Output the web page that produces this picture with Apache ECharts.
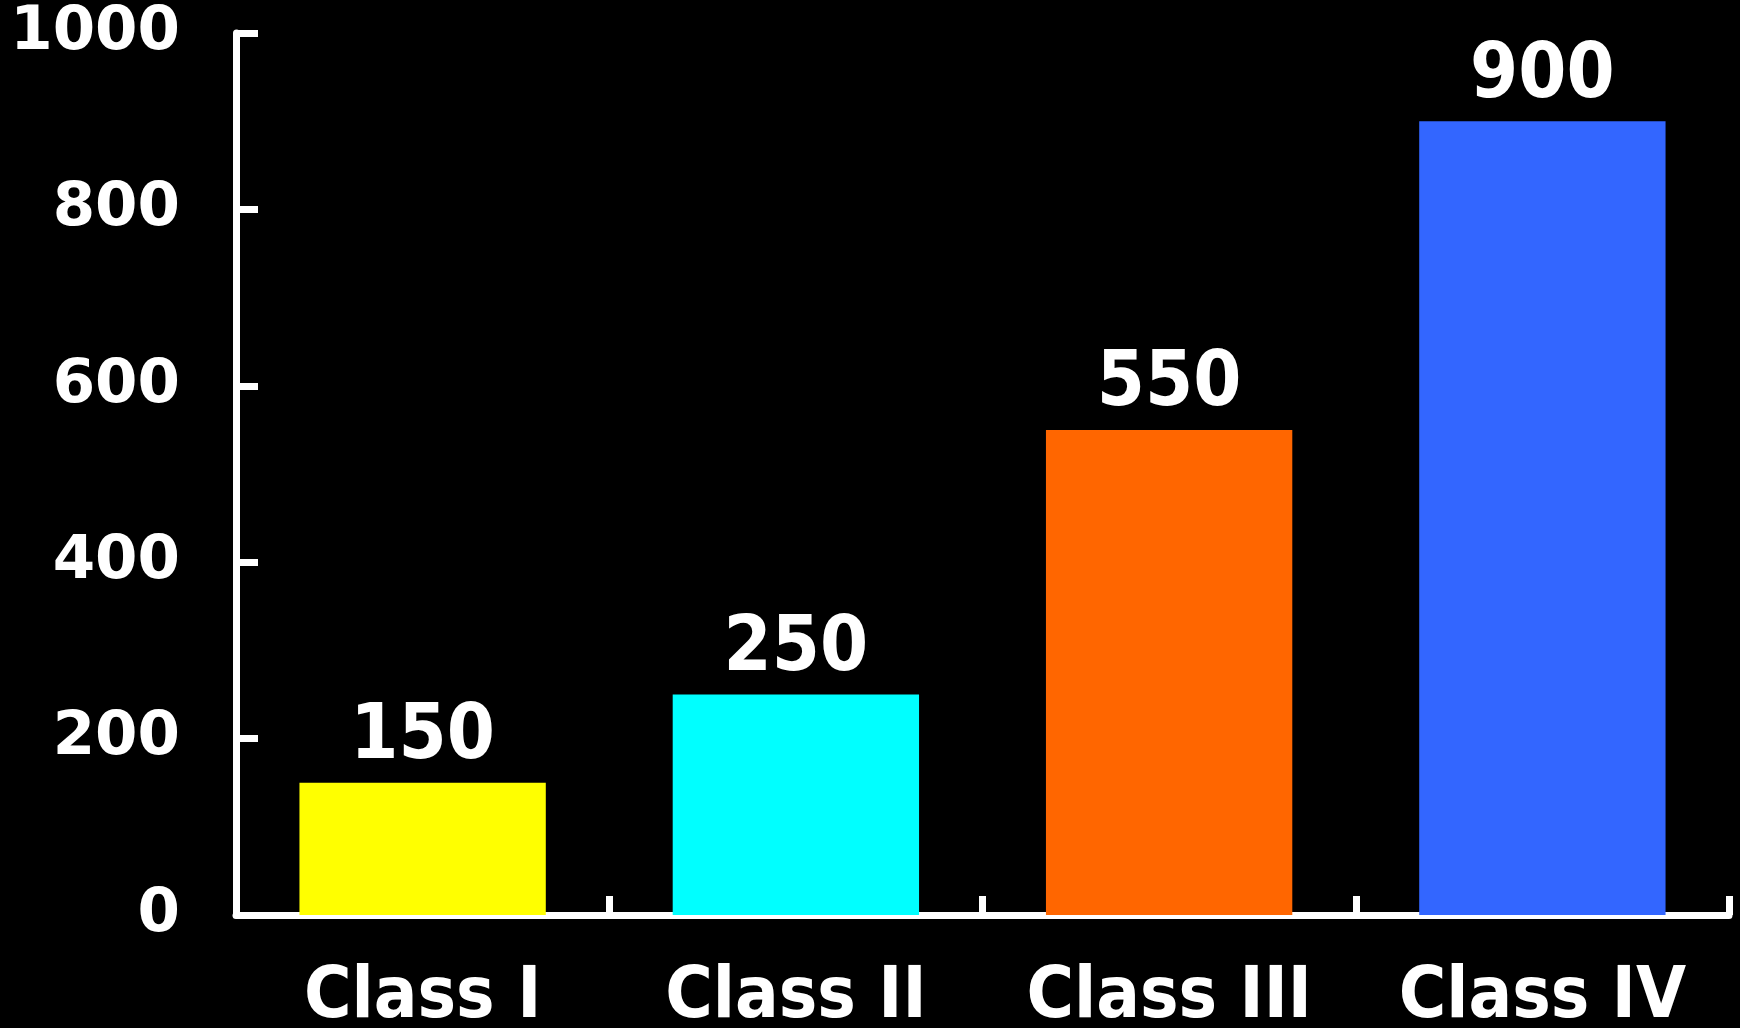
<!DOCTYPE html>
<html>
<head>
<meta charset="utf-8">
<title>Class totals</title>
<script src="https://cdn.jsdelivr.net/npm/echarts@6/dist/echarts.min.js"></script>
<style>
  html, body { margin: 0; padding: 0; background: #000; }
  #chart { width: 1740px; height: 1028px; }
</style>
</head>
<body>
<div id="chart"></div>
<script>
// Category names, their totals and bar colours
const categories = ['Class I', 'Class II', 'Class III', 'Class IV'];
const values = [150, 250, 550, 900];
const barColors = ['#FFFF00', '#00FFFF', '#FF6600', '#3366FF'];
const yTicks = [0, 200, 400, 600, 800, 1000];

const FONT = 'DejaVu Sans';
const FONT_NARROW = 'DejaVu Sans Condensed';

const chart = echarts.init(document.getElementById('chart'), null, { renderer: 'canvas' });

chart.setOption({
  backgroundColor: '#000000',
  animation: false,
  grid: {
    left: 236, right: 11, top: 33, bottom: 113,
    containLabel: false,
    outerBoundsMode: 'none'
  },
  xAxis: {
    type: 'category',
    data: categories,
    axisLine: { show: true, lineStyle: { color: '#FFFFFF', width: 7 } },
    axisTick: { show: true, inside: true, interval: 0, length: 19, lineStyle: { color: '#FFFFFF', width: 7 } },
    axisLabel: {
      interval: 0,
      color: '#FFFFFF', fontFamily: FONT_NARROW, fontWeight: 'bold', fontSize: 72, margin: 47
    },
    splitLine: { show: false }
  },
  yAxis: {
    type: 'value',
    min: yTicks[0],
    max: yTicks[yTicks.length - 1],
    interval: yTicks[1] - yTicks[0],
    axisLine: { show: true, lineStyle: { color: '#FFFFFF', width: 7 } },
    axisTick: { show: true, inside: true, length: 22, lineStyle: { color: '#FFFFFF', width: 7 } },
    axisLabel: {
      color: '#FFFFFF', fontFamily: FONT, fontWeight: 'bold', fontSize: 61, margin: 56,
      formatter: v => String(v)
    },
    splitLine: { show: false }
  },
  series: [{
    type: 'bar',
    barWidth: '66%',
    data: values.map((v, i) => ({ value: v, itemStyle: { color: barColors[i] } })),
    label: {
      show: true,
      position: 'top',
      distance: 6,
      color: '#FFFFFF',
      fontFamily: FONT_NARROW,
      fontWeight: 'bold',
      fontSize: 77
    }
  }]
});
</script>
</body>
</html>
